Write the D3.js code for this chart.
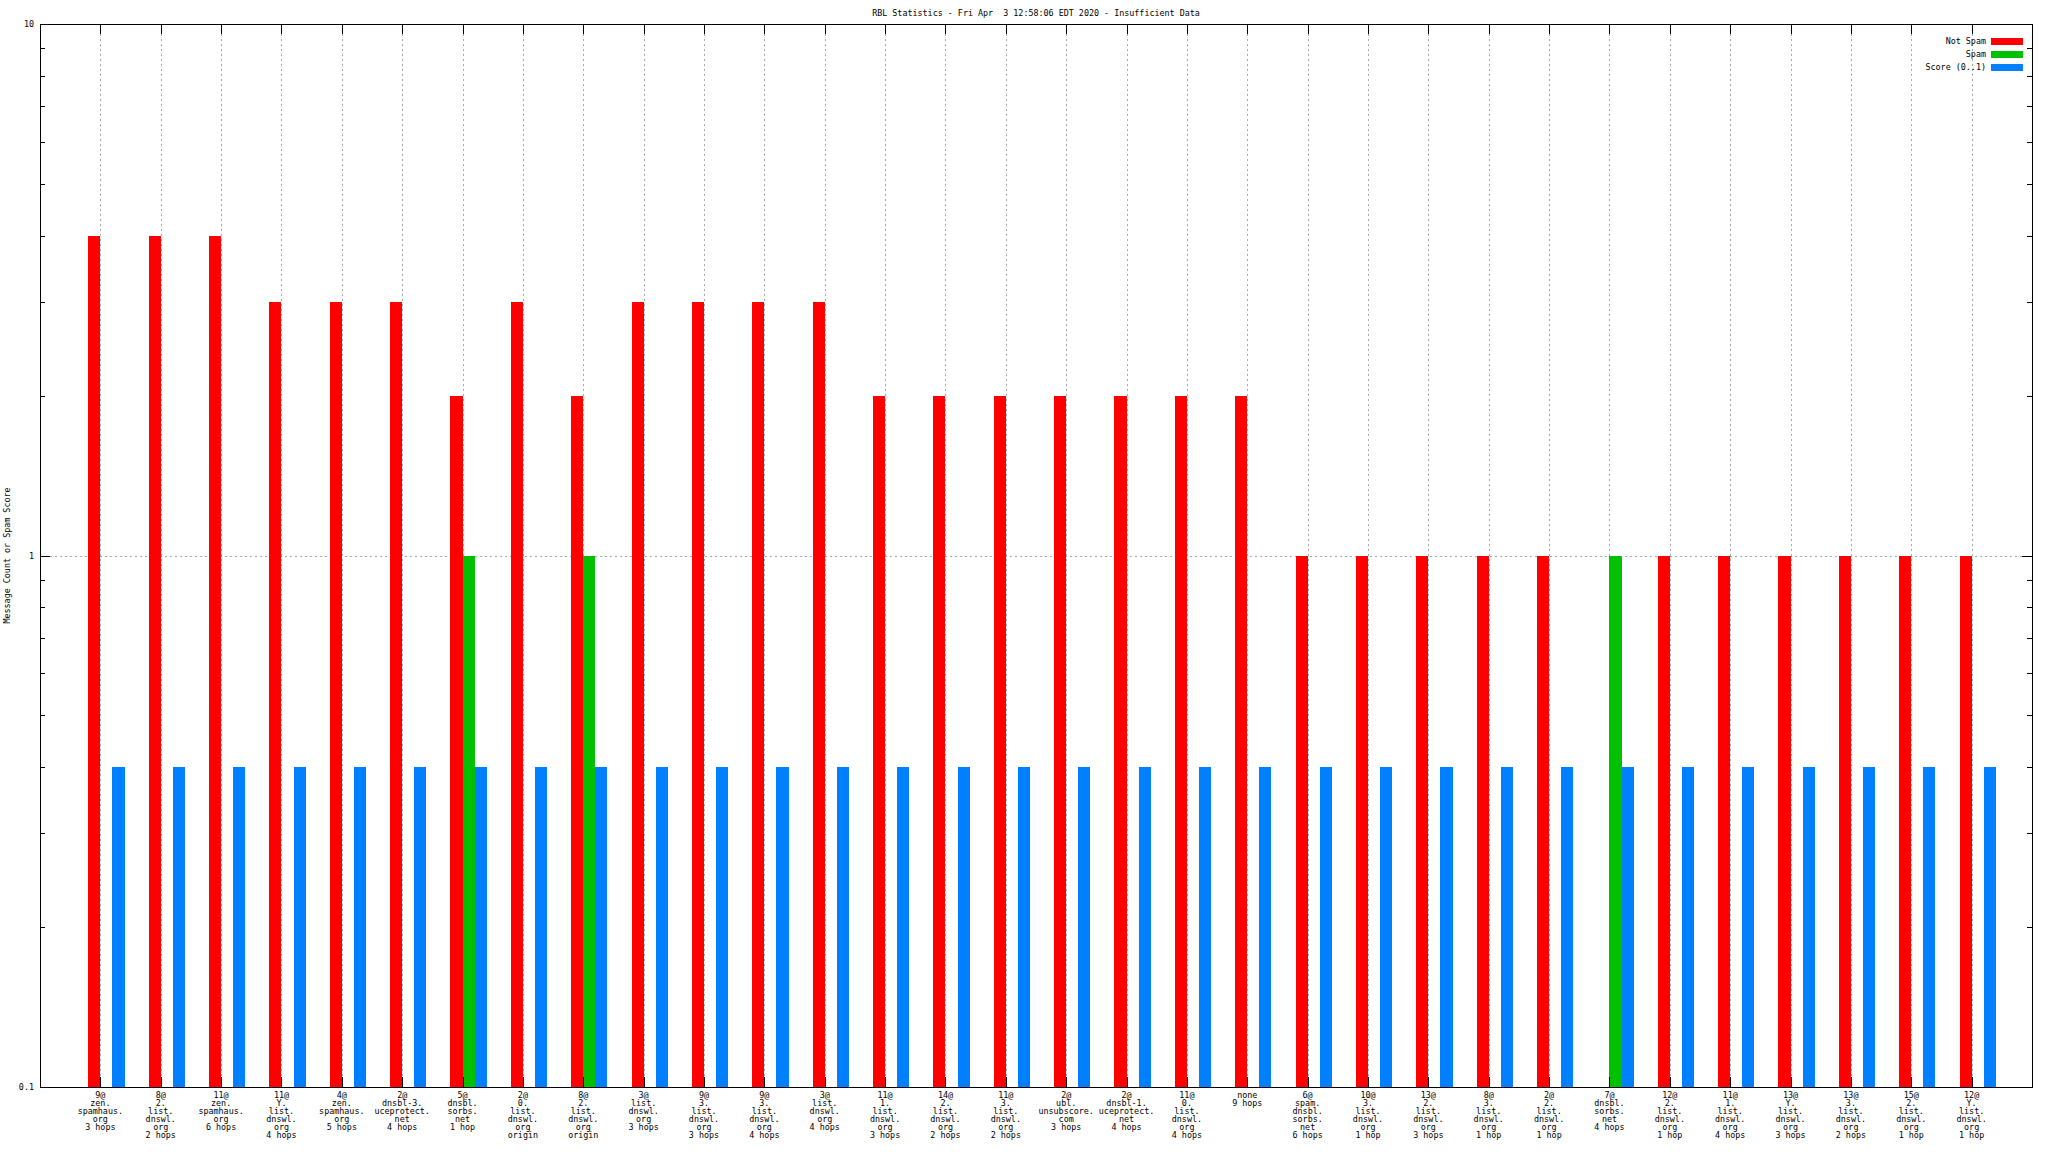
<!DOCTYPE html>
<html>
<head>
<meta charset="utf-8">
<script src="https://cdn.jsdelivr.net/npm/d3@7"></script>
<style>
  html, body { margin: 0; padding: 0; background: #fff; }
  svg { display: block; }
  text { font-family: "DejaVu Sans Mono", "Liberation Mono", monospace; font-size: 8.4px; fill: #000; white-space: pre; }
</style>
</head>
<body>
<svg id="chart" width="2048" height="1152"></svg>
<script>
// ---- data ----
const title = "RBL Statistics - Fri Apr  3 12:58:06 EDT 2020 - Insufficient Data";
const yAxisTitle = "Message Count or Spam Score";
const seriesNames = ["Not Spam", "Spam", "Score (0..1)"];
const seriesColors = ["#ff0000", "#00c000", "#0080ff"];

const categories = [
  "9@\nzen.\nspamhaus.\norg\n3 hops",
  "8@\n2.\nlist.\ndnswl.\norg\n2 hops",
  "11@\nzen.\nspamhaus.\norg\n6 hops",
  "11@\nY.\nlist.\ndnswl.\norg\n4 hops",
  "4@\nzen.\nspamhaus.\norg\n5 hops",
  "2@\ndnsbl-3.\nuceprotect.\nnet\n4 hops",
  "5@\ndnsbl.\nsorbs.\nnet\n1 hop",
  "2@\n0.\nlist.\ndnswl.\norg\norigin",
  "8@\n2.\nlist.\ndnswl.\norg\norigin",
  "3@\nlist.\ndnswl.\norg\n3 hops",
  "9@\n3.\nlist.\ndnswl.\norg\n3 hops",
  "9@\n3.\nlist.\ndnswl.\norg\n4 hops",
  "3@\nlist.\ndnswl.\norg\n4 hops",
  "11@\n1.\nlist.\ndnswl.\norg\n3 hops",
  "14@\n2.\nlist.\ndnswl.\norg\n2 hops",
  "11@\n3.\nlist.\ndnswl.\norg\n2 hops",
  "2@\nubl.\nunsubscore.\ncom\n3 hops",
  "2@\ndnsbl-1.\nuceprotect.\nnet\n4 hops",
  "11@\n0.\nlist.\ndnswl.\norg\n4 hops",
  "none\n9 hops",
  "6@\nspam.\ndnsbl.\nsorbs.\nnet\n6 hops",
  "10@\n3.\nlist.\ndnswl.\norg\n1 hop",
  "13@\n2.\nlist.\ndnswl.\norg\n3 hops",
  "8@\n3.\nlist.\ndnswl.\norg\n1 hop",
  "2@\n2.\nlist.\ndnswl.\norg\n1 hop",
  "7@\ndnsbl.\nsorbs.\nnet\n4 hops",
  "12@\n2.\nlist.\ndnswl.\norg\n1 hop",
  "11@\n1.\nlist.\ndnswl.\norg\n4 hops",
  "13@\nY.\nlist.\ndnswl.\norg\n3 hops",
  "13@\n3.\nlist.\ndnswl.\norg\n2 hops",
  "15@\n2.\nlist.\ndnswl.\norg\n1 hop",
  "12@\nY.\nlist.\ndnswl.\norg\n1 hop"
];

const notSpam = [4,4,4,3,3,3,2,3,2,3,3,3,3,2,2,2,2,2,2,2,1,1,1,1,1,0,1,1,1,1,1,1];
const spam    = [0,0,0,0,0,0,1,0,1,0,0,0,0,0,0,0,0,0,0,0,0,0,0,0,0,1,0,0,0,0,0,0];
const score   = [0.4,0.4,0.4,0.4,0.4,0.4,0.4,0.4,0.4,0.4,0.4,0.4,0.4,0.4,0.4,0.4,
                 0.4,0.4,0.4,0.4,0.4,0.4,0.4,0.4,0.4,0.4,0.4,0.4,0.4,0.4,0.4,0.4];

const yMajorTicks = [0.1, 1, 10];
const yTickLabels = ["0.1", "1", "10"];
const yMinorTicks = [0.2,0.3,0.4,0.5,0.6,0.7,0.8,0.9,2,3,4,5,6,7,8,9];

// ---- layout ----
const L = 40, R = 2032, T = 24, B = 1087;
const svg = d3.select("#chart");

const x = d3.scaleLinear().domain([-1, categories.length]).range([L, R]);
const y = d3.scaleLog().domain([0.1, 10]).range([B, T]);
const barW = 0.2; // in category units

const idx = d3.range(categories.length);

// grid
const grid = svg.append("g").attr("stroke", "#a8a8a8").attr("stroke-dasharray", "2,3").attr("shape-rendering", "crispEdges");
grid.selectAll("line.v").data(idx).join("line")
  .attr("x1", d => Math.round(x(d)) + 0.5).attr("x2", d => Math.round(x(d)) + 0.5)
  .attr("y1", T).attr("y2", B);
grid.append("line")
  .attr("x1", L).attr("x2", R)
  .attr("y1", Math.round(y(1)) + 0.5).attr("y2", Math.round(y(1)) + 0.5);

// bars
const series = [notSpam, spam, score];
const offsets = [-1, 0, 1];
const barsG = svg.append("g").attr("shape-rendering", "crispEdges");
series.forEach((vals, s) => {
  barsG.append("g").attr("fill", seriesColors[s])
    .selectAll("rect").data(idx.filter(i => vals[i] > 0.1)).join("rect")
    .attr("x", i => x(i + offsets[s] * barW))
    .attr("width", i => x(i + (offsets[s] + 1) * barW) - x(i + offsets[s] * barW))
    .attr("y", i => y(vals[i]))
    .attr("height", i => y(0.1) - y(vals[i]));
});

// axes
function styleAxis(g) {
  g.select(".domain").remove();
  g.selectAll(".tick line").attr("stroke", "#000");
  g.selectAll("text").attr("fill", "#000").attr("font-family", null).attr("font-size", null);
  g.attr("font-family", null).attr("font-size", null);
}
const fmtMap = new Map(yMajorTicks.map((v, i) => [v, yTickLabels[i]]));
svg.append("g").attr("transform", `translate(${L},0)`).attr("shape-rendering", "crispEdges")
  .call(d3.axisLeft(y).tickValues(yMajorTicks).tickSize(-10).tickPadding(6).tickFormat(d => fmtMap.get(d)))
  .call(styleAxis);
svg.append("g").attr("transform", `translate(${L},0)`).attr("shape-rendering", "crispEdges")
  .call(d3.axisLeft(y).tickValues(yMinorTicks).tickSize(-5).tickFormat(""))
  .call(styleAxis);
svg.append("g").attr("transform", `translate(${R},0)`).attr("shape-rendering", "crispEdges")
  .call(d3.axisRight(y).tickValues(yMajorTicks).tickSize(-10).tickFormat(""))
  .call(styleAxis);
svg.append("g").attr("transform", `translate(${R},0)`).attr("shape-rendering", "crispEdges")
  .call(d3.axisRight(y).tickValues(yMinorTicks).tickSize(-5).tickFormat(""))
  .call(styleAxis);
svg.append("g").attr("transform", `translate(0,${T})`).attr("shape-rendering", "crispEdges")
  .call(d3.axisTop(x).tickValues(idx).tickSize(-10).tickFormat(""))
  .call(styleAxis);
svg.append("g").attr("transform", `translate(0,${B})`).attr("shape-rendering", "crispEdges")
  .call(d3.axisBottom(x).tickValues(idx).tickSize(-10).tickFormat(""))
  .call(styleAxis);

// border
svg.append("rect").attr("x", L + 0.5).attr("y", T + 0.5).attr("width", R - L).attr("height", B - T)
  .attr("fill", "none").attr("stroke", "#000").attr("shape-rendering", "crispEdges");

// x category labels
const lab = svg.append("g").attr("text-anchor", "middle");
idx.forEach(i => {
  const t = lab.append("text").attr("x", x(i)).attr("y", 1098);
  categories[i].split("\n").forEach((line, k) => {
    t.append("tspan").attr("x", x(i)).attr("y", 1098 + k * 8).text(line);
  });
});

// title
svg.append("text").attr("x", (L + R) / 2).attr("y", 16).attr("text-anchor", "middle")
  .attr("xml:space", "preserve").text(title);

// y-axis title
svg.append("text").attr("transform", `translate(10,${(T + B) / 2}) rotate(-90)`)
  .attr("text-anchor", "middle").text(yAxisTitle);

// legend
const leg = svg.append("g");
seriesNames.forEach((name, s) => {
  const cy = 41 + s * 13;
  leg.append("text").attr("x", 1986).attr("y", cy + 3).attr("text-anchor", "end").text(name);
  leg.append("rect").attr("x", 1991).attr("y", cy - 3).attr("width", 32).attr("height", 7)
    .attr("fill", seriesColors[s]);
});
</script>
</body>
</html>
